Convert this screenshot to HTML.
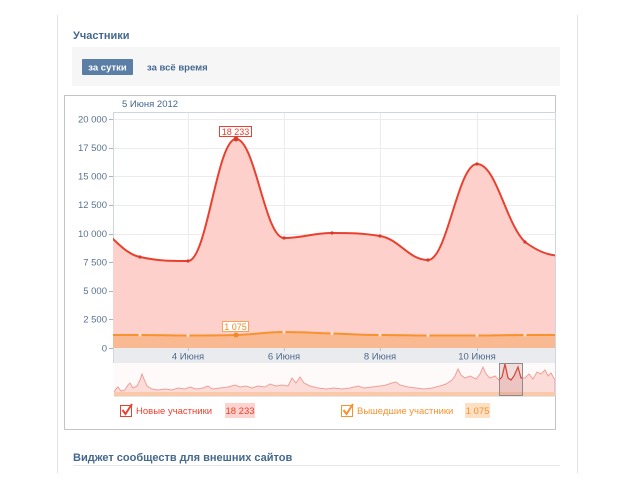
<!DOCTYPE html>
<html><head><meta charset="utf-8"><style>
html,body{margin:0;padding:0;background:#fff;}
svg{display:block;}
text{font-family:"Liberation Sans","DejaVu Sans",sans-serif;}
</style></head><body>
<svg width="644" height="495" viewBox="0 0 644 495" xmlns="http://www.w3.org/2000/svg">
<!-- page frame -->
<line x1="57.5" y1="15" x2="57.5" y2="473" stroke="#e3e3e3" stroke-width="1"/>
<line x1="577.5" y1="15" x2="577.5" y2="473" stroke="#e3e3e3" stroke-width="1"/>
<!-- title -->
<text x="73" y="39" font-size="11" font-weight="bold" fill="#45688e">Участники</text>
<!-- tab bar -->
<rect x="72" y="47" width="488" height="39" fill="#f6f6f6"/>
<rect x="82" y="59" width="51" height="16" rx="1" fill="#5b7ea6"/>
<text x="107.5" y="70.5" font-size="9.5" font-weight="bold" fill="#fff" text-anchor="middle">за сутки</text>
<text x="147" y="70.5" font-size="9.5" font-weight="bold" fill="#45688e">за всё время</text>
<!-- dashed chart box -->
<rect x="64.5" y="95.5" width="491" height="334" fill="none" stroke="#888" stroke-width="1" stroke-dasharray="1,1"/>
<text x="122" y="107" font-size="9.5" fill="#45688e">5 Июня 2012</text>
<!-- grid -->
<g stroke="#ececec" stroke-width="1">
<line x1="113" y1="119.5" x2="555" y2="119.5"/>
<line x1="113" y1="148.5" x2="555" y2="148.5"/>
<line x1="113" y1="176.5" x2="555" y2="176.5"/>
<line x1="113" y1="205.5" x2="555" y2="205.5"/>
<line x1="113" y1="234.5" x2="555" y2="234.5"/>
<line x1="113" y1="262.5" x2="555" y2="262.5"/>
<line x1="113" y1="291.5" x2="555" y2="291.5"/>
<line x1="113" y1="319.5" x2="555" y2="319.5"/>
<line x1="188.5" y1="112" x2="188.5" y2="348"/>
<line x1="284.5" y1="112" x2="284.5" y2="348"/>
<line x1="380.5" y1="112" x2="380.5" y2="348"/>
<line x1="477.5" y1="112" x2="477.5" y2="348"/>
</g>
<!-- plot border -->
<line x1="113" y1="112.5" x2="556" y2="112.5" stroke="#cfd6de"/>
<line x1="113.5" y1="112" x2="113.5" y2="363" stroke="#cfd6de"/>
<line x1="555.5" y1="112" x2="555.5" y2="396" stroke="#cfd6de"/>
<!-- y labels -->
<g font-size="9.5" fill="#5a7290" text-anchor="end">
<text x="107" y="122.5">20 000</text>
<text x="107" y="151">17 500</text>
<text x="107" y="179.5">15 000</text>
<text x="107" y="208">12 500</text>
<text x="107" y="237">10 000</text>
<text x="107" y="265.5">7 500</text>
<text x="107" y="294">5 000</text>
<text x="107" y="322.5">2 500</text>
<text x="107" y="351.5">0</text>
</g>
<g stroke="#aab4c0">
<line x1="109" y1="119.5" x2="113" y2="119.5"/>
<line x1="109" y1="148.5" x2="113" y2="148.5"/>
<line x1="109" y1="176.5" x2="113" y2="176.5"/>
<line x1="109" y1="205.5" x2="113" y2="205.5"/>
<line x1="109" y1="234.5" x2="113" y2="234.5"/>
<line x1="109" y1="262.5" x2="113" y2="262.5"/>
<line x1="109" y1="291.5" x2="113" y2="291.5"/>
<line x1="109" y1="319.5" x2="113" y2="319.5"/>
<line x1="109" y1="348.5" x2="113" y2="348.5"/>
</g>
<defs><clipPath id="pc"><rect x="113" y="112" width="442" height="237"/></clipPath>
<clipPath id="nc"><rect x="114" y="363" width="441" height="33"/></clipPath></defs>
<g clip-path="url(#pc)">
<!-- red area -->
<path d="M92,225 C111.2,231 120.8,253 140,257 C159.2,261 168.8,261 188,261 C207.2,261 216.8,139 236,139 C255.2,139 264.8,238 284,238 C303.2,238 312.8,233 332,233 C351.2,233 360.8,233 380,236 C399.2,239 408.8,260 428,260 C447.2,260 457.8,164 477,164 C496.2,164 505.8,223.6 525,242 C544.2,256 553.8,256 573,256 L573,348 L92,348 Z" fill="#fdd0cb"/>
<!-- orange area -->
<path d="M92,335 C111,335 121,335 140,335 C159,335 169,335.5 188,335.5 C207,335.5 217,335.5 236,335 C255,334.5 265,332 284,332 C303,332 313,333 332,333.5 C351,334 361,335 380,335 C399,335 409,335.5 428,335.5 C447,335.5 458,335.5 477,335.5 C496,335.5 506,335 525,335 C544,335 554,335 573,335 L573,348 L92,348 Z" fill="#f9b993"/>
<!-- red line -->
<path d="M92,225 C111.2,231 120.8,253 140,257 C159.2,261 168.8,261 188,261 C207.2,261 216.8,139 236,139 C255.2,139 264.8,238 284,238 C303.2,238 312.8,233 332,233 C351.2,233 360.8,233 380,236 C399.2,239 408.8,260 428,260 C447.2,260 457.8,164 477,164 C496.2,164 505.8,223.6 525,242 C544.2,256 553.8,256 573,256" fill="none" stroke="#e8412f" stroke-width="2"/>
<!-- orange line -->
<path d="M92,335 C111,335 121,335 140,335 C159,335 169,335.5 188,335.5 C207,335.5 217,335.5 236,335 C255,334.5 265,332 284,332 C303,332 313,333 332,333.5 C351,334 361,335 380,335 C399,335 409,335.5 428,335.5 C447,335.5 458,335.5 477,335.5 C496,335.5 506,335 525,335 C544,335 554,335 573,335" fill="none" stroke="#f7922e" stroke-width="2"/>
<!-- markers -->
<g fill="#d83a28">
<circle cx="140" cy="257" r="1.6"/><circle cx="188" cy="261" r="1.6"/><circle cx="236" cy="139" r="2.5"/>
<circle cx="284" cy="238" r="1.6"/><circle cx="332" cy="233" r="1.6"/><circle cx="380" cy="236" r="1.6"/>
<circle cx="428" cy="260" r="1.6"/><circle cx="477" cy="164" r="1.6"/><circle cx="525" cy="242" r="1.6"/>
</g>
<g fill="#fde2cc">
<circle cx="140" cy="335" r="1.5"/><circle cx="188" cy="335.5" r="1.5"/><circle cx="284" cy="332" r="1.5"/>
<circle cx="332" cy="333.5" r="1.5"/><circle cx="380" cy="335" r="1.5"/><circle cx="428" cy="335.5" r="1.5"/>
<circle cx="477" cy="335.5" r="1.5"/><circle cx="525" cy="335" r="1.5"/>
</g>
<circle cx="236" cy="335" r="2.5" fill="#f08a26"/>
</g>
<!-- data labels -->
<rect x="219.5" y="126.5" width="32" height="10" fill="#fff" stroke="#e8412f"/>
<text x="235.5" y="135" font-size="9" fill="#e8412f" text-anchor="middle">18 233</text>
<rect x="222.5" y="321.5" width="26" height="10" fill="#fff" stroke="#f7a45a"/>
<text x="235.5" y="330" font-size="9" fill="#f08a26" text-anchor="middle">1 075</text>
<!-- x axis band -->
<rect x="114" y="348" width="441" height="15" fill="#e9ebee"/>
<g stroke="#b9c2cc">
<line x1="188.5" y1="348" x2="188.5" y2="351"/><line x1="284.5" y1="348" x2="284.5" y2="351"/>
<line x1="380.5" y1="348" x2="380.5" y2="351"/><line x1="477.5" y1="348" x2="477.5" y2="351"/>
</g>
<g font-size="9.5" fill="#4e6a8c" text-anchor="middle">
<text x="188" y="359.5">4 Июня</text>
<text x="284" y="359.5">6 Июня</text>
<text x="380" y="359.5">8 Июня</text>
<text x="477" y="359.5">10 Июня</text>
</g>
<!-- navigator -->
<g clip-path="url(#nc)">
<rect x="114" y="363" width="441" height="33" fill="#fffafa"/>
<path d="M114,392 L116,389 L118,387 L121,391 L125,390 L128,385 L130,383 L133,388 L137,386 L140,380 L142,374 L144,379 L147,386 L152,389 L158,390 L165,389 L172,390 L178,388 L185,389 L190,387 L196,389 L203,388 L208,386 L212,389 L220,388 L228,387 L235,385 L240,387 L246,386 L252,388 L258,386 L265,387 L270,384 L276,386 L282,385 L288,386 L292,378 L296,383 L300,377 L304,383 L310,386 L318,388 L326,389 L334,388 L342,389 L350,388 L358,386 L364,388 L372,387 L380,386 L386,385 L392,383 L396,382 L400,385 L408,387 L416,388 L424,389 L432,388 L440,386 L446,384 L452,380 L455,376 L458,369 L461,375 L465,378 L470,376 L476,379 L480,374 L483,367 L486,374 L490,378 L495,376 L499,380 L502,377 L505,364 L508,378 L511,380 L514,376 L518,367 L521,378 L525,378 L529,374 L533,379 L537,372 L541,374 L545,370 L548,376 L551,373 L555,380 L555,396 L114,396 Z" fill="#fbdcd8" stroke="#f0a098" stroke-width="1"/>
<rect x="114" y="392" width="441" height="4" fill="#f9c9aa"/>
<path d="M499,380 L502,377 L505,364 L508,378 L511,380 L514,376 L518,367 L521,378 L522,378" fill="none" stroke="#e14333" stroke-width="1.2"/>
<rect x="499.5" y="363.5" width="23" height="32" fill="rgba(170,90,90,0.18)" stroke="#8c8c8c" stroke-width="1"/>
</g>
<line x1="114" y1="396.5" x2="555" y2="396.5" stroke="#e5e5e5"/>
<!-- legend -->
<rect x="120.5" y="405.5" width="11" height="11" fill="#fff" stroke="#e8412f"/>
<path d="M122.5,410 L125.5,414 L132,404" fill="none" stroke="#e8412f" stroke-width="2"/>
<text x="136" y="414" font-size="9.5" fill="#e8412f">Новые участники</text>
<rect x="225" y="403" width="30" height="15" fill="#fcd3ce"/>
<text x="240" y="414" font-size="9.5" fill="#e8412f" text-anchor="middle">18 233</text>
<rect x="341.5" y="405.5" width="11" height="11" fill="#fff" stroke="#f7922e"/>
<path d="M343.5,410 L346.5,414 L353,404" fill="none" stroke="#f7922e" stroke-width="2"/>
<text x="357" y="414" font-size="9.5" fill="#f7922e">Вышедшие участники</text>
<rect x="465" y="403" width="25" height="15" fill="#fde0c4"/>
<text x="477.5" y="414" font-size="9.5" fill="#f7922e" text-anchor="middle">1 075</text>
<!-- widget section -->
<text x="73" y="461" font-size="11" font-weight="bold" fill="#45688e">Виджет сообществ для внешних сайтов</text>
<line x1="73" y1="465.5" x2="560" y2="465.5" stroke="#e6e6e6"/>
</svg>
</body></html>
